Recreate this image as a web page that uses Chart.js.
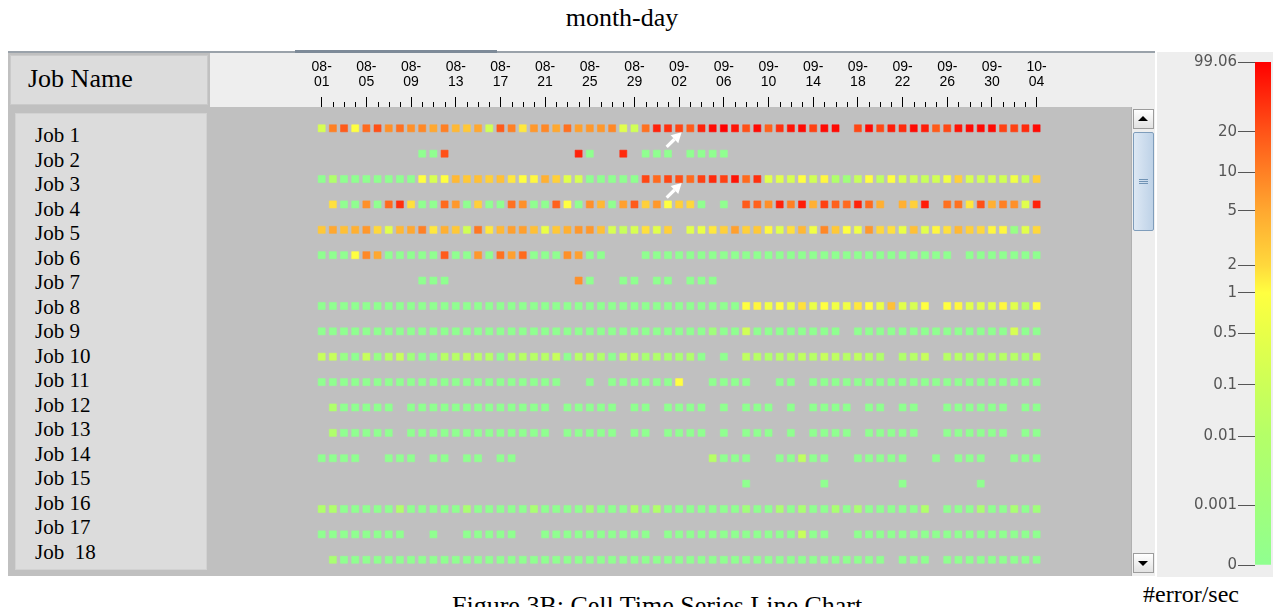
<!DOCTYPE html>
<html>
<head>
<meta charset="utf-8">
<title>month-day</title>
<script src="https://cdn.jsdelivr.net/npm/chart.js@4.4.1/dist/chart.umd.min.js"></script>
<style>
  html, body { margin: 0; padding: 0; background: #ffffff; }
  body { width: 1273px; height: 607px; position: relative; overflow: hidden; }
  .abs { position: absolute; box-sizing: border-box; }
  .serif { font-family: "Liberation Serif", "Times New Roman", serif; color: #000; white-space: pre; }
  .tri-up { width: 0; height: 0; border-left: 5px solid transparent; border-right: 5px solid transparent; border-bottom: 5px solid #000; }
  .tri-down { width: 0; height: 0; border-left: 5px solid transparent; border-right: 5px solid transparent; border-top: 5px solid #000; }
</style>
</head>
<body>

<div class="abs serif" style="left:0;top:5px;width:1244px;font-size:26px;line-height:26px;text-align:center">month-day</div>

<!-- table frame -->
<div class="abs" style="left:8px;top:51px;width:1147px;height:2px;background:#9aa2aa"></div>
<div class="abs" style="left:295px;top:50px;width:202px;height:3px;background:#7d8a98"></div>
<div class="abs" style="left:8px;top:53px;width:1147px;height:523px;background:#c0c0c0"></div>
<div class="abs" style="left:10px;top:55px;width:198px;height:50px;background:#dcdcdc;border:1px solid #cacaca"></div>
<div class="abs serif" style="left:28px;top:66px;font-size:26px;line-height:26px">Job Name</div>
<div class="abs" style="left:210px;top:53px;width:945px;height:54px;background:#eeeeee"></div>
<div class="abs" style="left:15px;top:113px;width:192px;height:457px;background:#dcdcdc;border:1px solid #d2d2d2"></div>
<div id="names"></div>

<!-- scrollbar -->
<div class="abs" style="left:1131px;top:107px;width:24px;height:469px;background:#eeeeee;border-left:1px solid #b0b0b0"></div>
<div class="abs" style="left:1133px;top:109px;width:21px;height:20px;background:linear-gradient(#ffffff,#e2e2e2);border:1px solid #9c9c9c"></div>
<div class="abs tri-up" style="left:1138px;top:116px"></div>
<div class="abs" style="left:1133px;top:132px;width:21px;height:99px;background:linear-gradient(90deg,#dde8f4,#bed2e7);border:1px solid #7f9dbb;border-radius:2px"></div>
<div class="abs" style="left:1139px;top:179px;width:9px;height:1px;background:#7093b5"></div>
<div class="abs" style="left:1139px;top:181px;width:9px;height:1px;background:#7093b5"></div>
<div class="abs" style="left:1139px;top:183px;width:9px;height:1px;background:#7093b5"></div>
<div class="abs" style="left:1133px;top:553px;width:21px;height:20px;background:linear-gradient(#ffffff,#e2e2e2);border:1px solid #9c9c9c"></div>
<div class="abs tri-down" style="left:1138px;top:561px"></div>

<canvas id="grid" class="abs" width="945" height="521" style="left:210px;top:55px"></canvas>

<!-- colour key -->
<div class="abs" style="left:1157px;top:52px;width:116px;height:525px;background:#eeeeee"></div>
<canvas id="key" class="abs" width="116" height="528" style="left:1157px;top:52px"></canvas>
<div class="abs serif" style="left:1143px;top:582px;font-size:24px;line-height:24px">#error/sec</div>

<div class="abs serif" style="left:452px;top:593px;font-size:26px;line-height:26px">Figure 3B: Cell Time Series Line Chart</div>

<script>
const _ = null;

// job rows, top to bottom
const jobs = ['Job 1', 'Job 2', 'Job 3', 'Job 4', 'Job 5', 'Job 6', 'Job 7', 'Job 8', 'Job 9',
              'Job 10', 'Job 11', 'Job 12', 'Job 13', 'Job 14', 'Job 15', 'Job 16', 'Job 17', 'Job  18'];

// one tick label every four days, starting 08-01
const tickLabels = ['08-01', '08-05', '08-09', '08-13', '08-17', '08-21', '08-25', '08-29', '09-02',
                    '09-06', '09-10', '09-14', '09-18', '09-22', '09-26', '09-30', '10-04'];
const tickStep = 4;

// errors per second, one value per day (08-01 .. 10-05); null = no run that day
const job1 = [0.25,10,18.5,1,15,24,8,13.5,8,9, 5,10,4,3,5,0.15,18.5,10,1.6,7, 9,5,13.5,6,7,7,9,0.4,0.15,13.5,
              67,54,32,18.5,67,90,99,80,24,90, 17,54,80,90,38,90,90,_,32,90, 32,73,60,90,73,18.5,32,80,90,90, 90,38,38,60,90];
const job2 = [_,_,_,_,_,_,_,_,_,0, 0,24,_,_,_,_,_,_,_,_, _,_,_,67,0,_,_,60,_,0,
              0,0,_,0,0,0,0,_,_,_, _,_,_,_,_,_,_,_,_,_, _,_,_,_,_,_,_,_,_,_, _,_,_,_,_];
const job3 = [0,0.008,0,0,0,0,0,0,0,1, 0.25,1,4,3,3.5,2.5,3.5,1.6,1,1.2, 4.5,2.5,0.4,0.25,0,0,0,0,0,32,
              15,32,24,15,38,60,38,80,15,54, 0.4,0.4,0.25,1,0.15,1.2,0.008,0.001,0.08,1, 0.05,1,0.25,0.15,0.08,0.15,0.7,2.5,0.25,0.15, 0.25,0.15,0.7,0.08,2.5];
const job4 = [_,1.8,0,0,8,0,15,54,1.8,0, 0,15,7,0,2.5,0,0,13.5,8,0, 0,17,1,0,8,4,0,6,18.5,2.5,
              7,1,2.5,2,0,_,0,_,18.5,17, 8,67,10,73,4.5,38,17,15,67,15, 4.5,_,4.5,2.5,73,_,13.5,13.5,1.6,24, 4.5,10,8,0.4,67];
const job5 = [3,5,3.5,4.5,7,2,0.4,4,5,10, 1.6,4.5,3,0.15,12,1.6,4,6,6,3.5, 0.55,3,4.5,7,7,3.5,0.25,0.08,0.25,1.8,
              0.4,2.5,_,0.4,0.55,1.6,2.5,6,2.5,3, 1.2,0.4,1.8,4,0.7,9,3,1,0.7,7, 2,1.8,0.55,3.5,0.4,1.2,1.8,4,2.5,2, 1.2,1.2,0.0005,0.4,2];
const job6 = [0,0,0,1,9,5,0,0,0,0, 0,18.5,0,0,7,0,13.5,6,15,0, 0,0,8,6,0,0,_,_,_,0,
              0,0,0,0,0,0,0,0,0,0, 0,0,0,0,0,0,0,0,0,0, 0,0,0,0,0,0,0,_,0,0, 0,0,0,0,0];
const job7 = [_,_,_,_,_,_,_,_,_,0, 0,0,_,_,_,_,_,_,_,_, _,_,_,8,0,_,_,0,0,_,
              0,0,_,0,0,0,_,_,_,_, _,_,_,_,_,_,_,_,_,_, _,_,_,_,_,_,_,_,_,_, _,_,_,_,_];
const job8 = [0,0,0,0,0,0,0,0,0,0, 0,0,0,0,0,0,0,0,0,0, 0,0,0,0,0,0,0,0,0,0,
              0,0,0,0,0,0,0,0,1,1.2, 0.7,1,0.55,1.8,0.55,1,0.7,0.7,1.6,1, 0.55,3.5,0.4,0.25,1,_,1,1.2,0.4,0.4, 0.4,1.2,0.4,0.02,1];
const job9 = [0,0,0,0,0,0,0,0,0,0, 0,0,0,0,0,0,0,0,0,0, 0,0,0,0,0,0,0,0,0,0,
              0,0,0,0,0,0.001,0,0,0.15,0, 0,0,0,0,0,0,0,_,0,0, 0,0,0,0,0,0,0,0,0,0, 0,0,0.25,0,0];
const job10 = [0.08,0.08,0.0005,0,0.08,0.0005,0.02,0.08,0.001,0, 0,0.02,0.02,0.05,0.02,0.02,0,0.02,0.02,0.02,
               0.02,0.08,0,0.02,0.02,0.008,0,0.02,0.05,0.005, 0.008,0.005,0.005,0.008,0,_,0,_,0.05,0.02,
               0.008,0.02,0.02,0.05,0.02,0.08,0.05,0.02,0.05,0.02, 0.008,_,0.008,0.02,0.08,_,0.02,0.02,0.008,0.02, 0.008,0.02,0.02,0.005,0.08];
const job11 = [0,0,0,0,0,0,0,0,0,0, 0,0,0,0,0,0,0,0,0,0, 0,0,_,_,0,_,0,0,0,0,
               0,0,1,_,_,0,0,0,0,_, _,0,0,_,0,0,0,0,0,0, 0,0,0,0,0,0,0,0,0,0, 0,0,0,0,0];
const job12 = [_,0.008,0,0,0,0,0,_,0,0, 0,0,0,0,0,0,0,0,0,0, 0,_,0,0,0,0,0,_,0,0,
               _,0,0,0,0,_,0,_,0,0, 0,_,0,_,0,0,0,0,_,0, 0,_,0,0,_,_,0,0,0,0, 0,0,_,0,0];
const job13 = [_,0.008,0,0,0,0,0,_,0,0, 0,0,0,0,0,0,0,0,0,0, 0,_,0,0,0,0,0,_,0,0,
               _,0,0,0,0,_,0,_,0,0, 0,_,0,_,0,0,0,0,_,0, 0,0,0,0,_,_,0,0,0,0, 0,0,_,0,0];
const job14 = [0,0,0,0,_,_,0,0,0,_, 0,0,_,0,0,_,0,0,_,_, _,_,_,_,_,_,_,_,_,_,
               _,_,_,_,_,0.02,0,0,0,_, _,0,0,0.05,0,0,_,_,0,0, 0,0,0,_,_,0,_,0,0,0, _,_,0,0,0];
const job15 = [_,_,_,_,_,_,_,_,_,_, _,_,_,_,_,_,_,_,_,_, _,_,_,_,_,_,_,_,_,_,
               _,_,_,_,_,_,_,_,0,_, _,_,_,_,_,0,_,_,_,_, _,_,0,_,_,_,_,_,_,0, _,_,_,_,_];
const job16 = [0.008,0.008,0,0,0,0,0,0.008,0,0, 0,0,0,0.005,0,0,0,0,0,0.005, 0,0,0,0,0.001,0,0,0,0.008,0,
               0.008,0,0,0,0,0,0,0,0.001,0, 0,0.005,0,0.005,0,0,0.005,0,0.005,0, 0,0,0,0,0.008,_,0,0,0,0.005, 0,0,0.005,0,0.001];
const job17 = [0,0,0,0,0,0,0,0,_,_, 0,_,_,0,0,0,0,0,_,_, 0,0,0,0,0,0,0,0,0,0,
               _,0,0,0,0,0,0,0,0,0, 0,0,0,0.08,0,0,_,_,0,0, 0,0,0,0,0,0,0,0,0,0, 0,0,0,0,0];
const job18 = [_,0.005,0,0,0,0,0,0,0,0, 0,0,0,0,0,0,0,0,0,0, 0,0,0,0,0,0,0,0,0,0,
               0,0,0,0,0,0,0,0,0,0, 0,0,0,0,0,0,0,0,0,0, 0,_,0,0,0,_,0,0,0,0, 0,0,0,0,0];

const jobRows = [job1, job2, job3, job4, job5, job6, job7, job8, job9,
                 job10, job11, job12, job13, job14, job15, job16, job17, job18];

// cells flagged with an arrow (job row, day)
const marked = [{ job: 0, day: 32 }, { job: 2, day: 32 }];

// colour key: values, their labels, where they sit along the bar (0 = bottom, 1 = top) and their colours
const scaleValues = [0, 0.001, 0.01, 0.1, 0.5, 1, 2, 5, 10, 20, 99.06];
const scaleLabels = ['0', '0.001', '0.01', '0.1', '0.5', '1', '2', '5', '10', '20', '99.06'];
const scaleStops  = [0, 0.119, 0.256, 0.358, 0.461, 0.541, 0.596, 0.704, 0.781, 0.861, 1];
const scaleColors = ['#90ff90', '#a0ff7c', '#b4ff68', '#ccff58', '#e8ff48', '#ffff40',
                     '#ffd83c', '#ffa830', '#ff8024', '#ff5418', '#ff0000'];

// ---- colour mapping -------------------------------------------------------
const stopRgb = scaleColors.map(h => [1, 3, 5].map(i => parseInt(h.slice(i, i + 2), 16)));
function stopOf(v) {
  if (v <= scaleValues[0]) return 0;
  for (let i = 1; i < scaleValues.length; i++) {
    if (v <= scaleValues[i]) {
      const f = (v - scaleValues[i - 1]) / (scaleValues[i] - scaleValues[i - 1]);
      return scaleStops[i - 1] + f * (scaleStops[i] - scaleStops[i - 1]);
    }
  }
  return 1;
}
function rgbAt(t) {
  for (let i = 1; i < scaleStops.length; i++) {
    if (t <= scaleStops[i]) {
      const f = (t - scaleStops[i - 1]) / (scaleStops[i] - scaleStops[i - 1]);
      const a = stopRgb[i - 1], b = stopRgb[i];
      return a.map((c, k) => Math.round(c + f * (b[k] - c)));
    }
  }
  return stopRgb[stopRgb.length - 1];
}
const fillFor = v => { const c = rgbAt(stopOf(v)); return `rgb(${c[0]},${c[1]},${c[2]})`; };
const edgeFor = v => { const c = rgbAt(stopOf(v)); return `rgba(${c[0]},${c[1]},${c[2]},0.55)`; };

// ---- job name column ------------------------------------------------------
const namesBox = document.getElementById('names');
jobs.forEach((name, j) => {
  const d = document.createElement('div');
  d.className = 'abs serif';
  d.style.cssText = `left:35px;top:${125 + j * 24.53}px;font-size:21px;line-height:21px`;
  d.textContent = name;
  namesBox.appendChild(d);
});

// ---- cell grid --------------------------------------------------------------
const days = job1.map((v, i) => i);
const cells = [];
jobRows.forEach((row, j) => row.forEach((v, d) => { if (v !== null) cells.push({ x: d, y: j, v }); }));

const overlay = {
  id: 'overlay',
  afterDraw(chart) {
    const { ctx, chartArea, scales: { x, y } } = chart;
    ctx.save();
    // daily minor ticks
    ctx.strokeStyle = '#000';
    ctx.lineWidth = 1;
    ctx.beginPath();
    days.forEach(d => {
      if (d % tickStep) {
        const px = Math.round(x.getPixelForValue(d)) + 0.5;
        ctx.moveTo(px, chartArea.top - 5);
        ctx.lineTo(px, chartArea.top);
      }
    });
    ctx.stroke();
    // white arrows pointing at flagged cells
    ctx.fillStyle = '#ffffff';
    ctx.strokeStyle = '#ffffff';
    marked.forEach(m => {
      const cx = x.getPixelForValue(m.day), cy = y.getPixelForValue(m.job);
      const x1 = cx - 12.5, y1 = cy + 18.5, x2 = cx + 2.5, y2 = cy + 4;
      const a = Math.atan2(y2 - y1, x2 - x1), hl = 10, hw = 5.5;
      const bx = x2 - hl * Math.cos(a), by = y2 - hl * Math.sin(a);
      ctx.lineWidth = 3.2;
      ctx.beginPath(); ctx.moveTo(x1, y1); ctx.lineTo(bx, by); ctx.stroke();
      ctx.beginPath();
      ctx.moveTo(x2, y2);
      ctx.lineTo(bx + hw * Math.sin(a), by - hw * Math.cos(a));
      ctx.lineTo(bx - hw * Math.sin(a), by + hw * Math.cos(a));
      ctx.closePath(); ctx.fill();
    });
    ctx.restore();
  }
};

new Chart(document.getElementById('grid'), {
  type: 'scatter',
  data: {
    datasets: [{
      data: cells,
      pointStyle: 'rect',
      pointRadius: 5,
      borderWidth: 1,
      backgroundColor: c => c.raw ? fillFor(c.raw.v) : '#000',
      borderColor: c => c.raw ? edgeFor(c.raw.v) : '#000'
    }]
  },
  options: {
    responsive: false,
    devicePixelRatio: 1,
    animation: false,
    events: [],
    layout: { autoPadding: false, padding: { top: 0, right: 23, bottom: 0, left: 0 } },
    plugins: { legend: { display: false }, tooltip: { enabled: false } },
    scales: {
      x: {
        type: 'linear',
        position: 'top',
        min: -10,
        max: 72.54,
        afterFit: s => { s.height = 52; },
        afterBuildTicks: s => { s.ticks = days.map(v => ({ value: v })); },
        ticks: {
          autoSkip: false,
          maxRotation: 0,
          padding: 8,
          color: '#000',
          font: { family: '"Liberation Sans", Arial, sans-serif', size: 14, lineHeight: 1.05 },
          callback: v => {
            if (v % tickStep) return '';
            const lbl = tickLabels[v / tickStep];
            if (!lbl) return '';
            const [m, d] = lbl.split('-');
            return [m + '-', d];
          }
        },
        grid: {
          drawOnChartArea: false,
          drawTicks: true,
          tickLength: 10,
          tickWidth: 1,
          tickColor: c => (c.tick && c.tick.value % tickStep === 0) ? '#000' : 'rgba(0,0,0,0)'
        },
        border: { display: false }
      },
      y: {
        type: 'linear',
        display: false,
        reverse: true,
        min: -0.839,
        max: 17.64
      }
    }
  },
  plugins: [overlay]
});

// ---- colour key -------------------------------------------------------------
new Chart(document.getElementById('key'), {
  type: 'bar',
  data: {
    labels: ['#error/sec'],
    datasets: [{
      data: [[0, 1]],
      borderWidth: 0,
      barPercentage: 1,
      categoryPercentage: 1,
      backgroundColor: c => {
        const ca = c.chart.chartArea;
        if (!ca) return '#ccc';
        const g = c.chart.ctx.createLinearGradient(0, ca.bottom, 0, ca.top);
        scaleStops.forEach((s, i) => g.addColorStop(s, scaleColors[i]));
        return g;
      }
    }]
  },
  options: {
    responsive: false,
    devicePixelRatio: 1,
    animation: false,
    events: [],
    layout: { padding: { top: 10, right: 2, bottom: 15, left: 0 } },
    plugins: { legend: { display: false }, tooltip: { enabled: false } },
    scales: {
      x: { display: false },
      y: {
        min: 0,
        max: 1,
        afterFit: s => { s.width = 98; },
        afterBuildTicks: s => { s.ticks = scaleStops.map(v => ({ value: v })); },
        ticks: {
          autoSkip: false,
          padding: 1,
          color: '#555',
          font: { family: '"DejaVu Sans", sans-serif', size: 15 },
          callback: (v, i) => scaleLabels[i]
        },
        grid: { drawOnChartArea: false, tickLength: 17, tickColor: '#555' },
        border: { display: false }
      }
    }
  }
});
</script>
</body>
</html>
